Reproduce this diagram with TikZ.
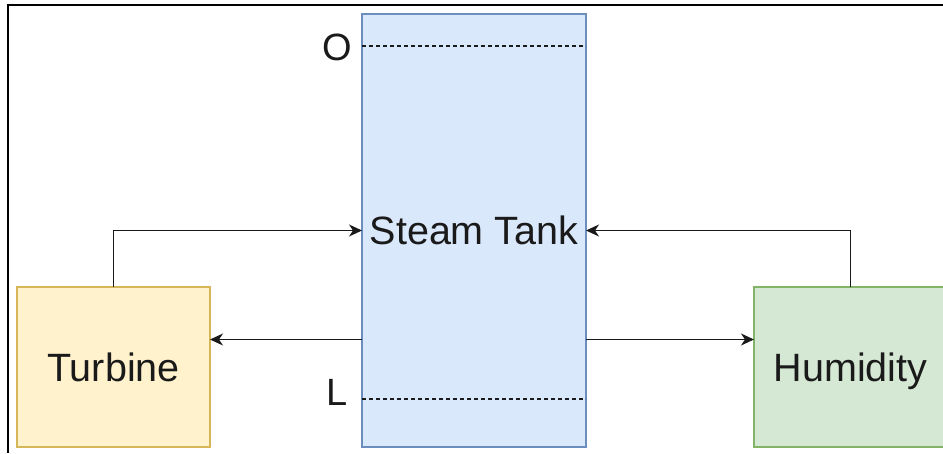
\documentclass[tikz,border=0pt]{standalone}
\usepackage{fontspec}
\setmainfont{Liberation Sans}
\usetikzlibrary{arrows.meta}
\definecolor{tankfill}{HTML}{DAE8FC}
\definecolor{tankline}{HTML}{6C8EBF}
\definecolor{turbfill}{HTML}{FFF2CC}
\definecolor{turbline}{HTML}{D6B656}
\definecolor{humfill}{HTML}{D5E8D4}
\definecolor{humline}{HTML}{82B366}
\definecolor{ink}{HTML}{1A1A1A}
\tikzset{
  block/.style={draw, line width=1.2pt, inner sep=0pt, outer sep=0pt,
    font=\fontsize{39.5}{42}\selectfont, text=ink,
    text height=28.4pt, text depth=0pt},
  flow/.style={draw=ink, line width=1.5pt, -{Stealth[length=13pt,width=12pt,inset=4pt]}},
  level/.style={draw=ink, line width=1.1pt, dash pattern=on 4pt off 3pt},
  marklabel/.style={font=\fontsize{38}{40}\selectfont, text=ink, inner sep=0pt},
  frameline/.style={draw=black, line width=1.5pt}
}
\begin{document}
\begin{tikzpicture}[x=1pt,y=-1pt]
  \clip (0,0) rectangle (943,453);
  \fill[white] (0,0) rectangle (943,453);
  % outer frame
  \draw[frameline] (8,453) -- (8,5) -- (945,5);

  % blocks
  \node[block, fill=tankfill, draw=tankline, minimum width=224pt, minimum height=433pt]
    (tank) at (474,230.5) {Steam Tank};
  \node[block, fill=turbfill, draw=turbline, minimum width=193pt, minimum height=160pt]
    (turbine) at (113.5,367) {Turbine};
  \node[block, fill=humfill, draw=humline, minimum width=193pt, minimum height=160pt]
    (humidity) at (850.5,367) {Humidity};

  % level marks inside the tank
  \coordinate (olevel) at (0,46);
  \coordinate (llevel) at (0,399);
  \draw[level] (tank.west |- olevel) -- (tank.east |- olevel);
  \draw[level] (tank.west |- llevel) -- (tank.east |- llevel);
  \node[marklabel] (omark) at (337,47) {O};
  \node[marklabel] (lmark) at (337,392) {L};

  % feeds into the tank
  \draw[flow] (turbine.north) |- (tank.west);
  \draw[flow] (humidity.north) |- (tank.east);

  % outputs from the tank
  \coordinate (outlevel) at (0,339.5);
  \draw[flow] (tank.west |- outlevel) -- (turbine.east |- outlevel);
  \draw[flow] (tank.east |- outlevel) -- (humidity.west |- outlevel);
\end{tikzpicture}
\end{document}
